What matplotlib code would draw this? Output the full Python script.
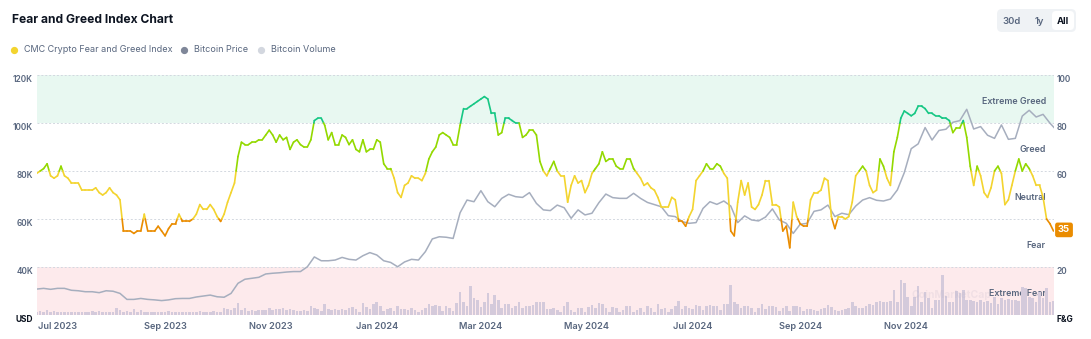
import numpy as np
import pandas as pd
import matplotlib
matplotlib.use("Agg")
import matplotlib.pyplot as plt
import matplotlib.dates as mdates
from matplotlib.collections import LineCollection
from matplotlib.patches import FancyBboxPatch
from matplotlib.lines import Line2D
from matplotlib.transforms import IdentityTransform

plt.rcParams['font.family'] = ['Inter', 'DejaVu Sans']

# data, one F&G value every 2 days from 2023-06-19
start = '2023-06-19'
fng = [
    59, 60, 61, 63, 58, 57, 58, 62, 58, 57,
    55, 55, 55, 52, 52, 52, 52, 53, 51, 50,
    51, 53, 51, 50, 48, 35, 35, 35, 34, 35,
    35, 42, 35, 35, 35, 37, 35, 33, 36, 38,
    38, 42, 39, 39, 39, 40, 42, 46, 44, 44,
    46, 44, 41, 39, 42, 47, 51, 55, 66, 72,
    71, 71, 72, 72, 73, 73, 75, 77, 75, 72,
    75, 73, 74, 69, 72, 73, 71, 70, 70, 73,
    81, 82, 82, 79, 73, 76, 71, 71, 75, 74,
    71, 73, 69, 68, 73, 68, 69, 69, 73, 72,
    63, 61, 61, 57, 51, 49, 54, 55, 58, 57,
    57, 56, 59, 65, 68, 70, 75, 76, 75, 74,
    71, 71, 79, 86, 86, 87, 88, 89, 90, 91,
    90, 84, 84, 75, 76, 82, 82, 81, 80, 80,
    74, 75, 77, 77, 75, 64, 60, 58, 61, 64,
    60, 58, 58, 47, 54, 58, 55, 56, 51, 54,
    59, 61, 63, 68, 64, 65, 65, 62, 61, 61,
    65, 65, 61, 59, 57, 54, 55, 53, 52, 49,
    45, 45, 45, 49, 48, 39, 39, 37, 41, 44,
    56, 58, 60, 63, 61, 61, 63, 62, 59, 57,
    35, 33, 47, 56, 50, 55, 45, 44, 46, 50,
    56, 56, 46, 46, 45, 35, 37, 28, 47, 41,
    38, 37, 37, 48, 51, 51, 52, 57, 56, 41,
    36, 41, 41, 40, 41, 47, 58, 60, 62, 60,
    54, 51, 52, 65, 62, 57, 54, 68, 74, 82,
    85, 84, 83, 84, 87, 87, 86, 84, 84, 83,
    83, 82, 82, 81, 76, 78, 78, 81, 74, 62,
    54, 62, 58, 51, 49, 53, 60, 62, 59, 46,
    48, 54, 60, 65, 60, 63, 61, 58, 54, 54,
    49, 40, 38, 35,
]

# bitcoin price in thousands USD, every 4 days
btc_price_k = [
    30.8, 31.1, 30.7, 31.1, 31.1, 30.3, 30.1, 29.7, 29.7, 29.3,
    30.1, 29.9, 29.0, 26.5, 26.5, 26.9, 26.5, 26.3, 26.0, 26.3,
    26.8, 26.9, 26.9, 27.5, 27.9, 28.3, 27.6, 27.4, 29.0, 33.2,
    34.9, 35.3, 35.7, 37.1, 37.4, 37.6, 37.9, 38.1, 38.1, 40.1,
    44.2, 42.6, 42.6, 42.9, 44.0, 43.2, 42.9, 44.7, 46.0, 45.0,
    42.6, 41.9, 40.1, 42.1, 43.2, 42.9, 46.4, 51.7, 52.6, 52.4,
    51.9, 62.6, 67.9, 67.2, 71.8, 67.2, 65.1, 68.6, 70.3, 69.3,
    69.0, 71.0, 66.5, 63.8, 63.5, 65.8, 64.7, 60.3, 63.8, 61.7,
    62.4, 66.8, 70.4, 68.9, 68.6, 68.6, 70.7, 68.6, 66.9, 66.0,
    65.1, 61.4, 61.0, 58.9, 58.2, 58.5, 64.4, 67.2, 66.1, 67.5,
    65.4, 58.5, 61.3, 59.6, 59.2, 60.8, 64.2, 59.6, 58.2, 54.0,
    57.8, 58.2, 63.2, 63.8, 65.8, 61.0, 62.4, 61.8, 65.4, 67.9,
    68.9, 67.8, 67.5, 68.3, 72.1, 79.3, 89.3, 91.3, 98.1, 92.9,
    96.9, 97.4, 100.3, 101.0, 105.7, 97.5, 98.5, 94.9, 93.6, 99.2,
    93.2, 93.6, 102.9, 105.3, 102.5, 103.6, 99.9, 96.8,
]

# bitcoin volume (relative units), every 2 days
btc_volume = [
    10, 12, 8, 14, 10, 12, 9, 8, 10, 9,
    8, 9, 10, 9, 8, 10, 11, 9, 12, 10,
    9, 8, 10, 22, 14, 10, 12, 10, 18, 9,
    16, 10, 8, 9, 8, 10, 9, 10, 12, 10,
    9, 8, 10, 9, 8, 10, 9, 11, 10, 9,
    10, 12, 10, 9, 20, 18, 14, 22, 36, 16,
    20, 12, 14, 12, 16, 15, 14, 20, 16, 18,
    18, 20, 15, 18, 16, 12, 13, 14, 13, 28,
    22, 18, 13, 33, 18, 14, 18, 16, 18, 14,
    20, 23, 18, 10, 36, 23, 18, 33, 40, 28,
    13, 18, 20, 13, 26, 18, 18, 15, 20, 16,
    10, 16, 20, 33, 28, 30, 26, 13, 26, 20,
    13, 35, 70, 40, 28, 86, 50, 45, 25, 40,
    66, 33, 60, 45, 20, 33, 33, 20, 28, 38,
    22, 26, 28, 30, 40, 38, 38, 18, 18, 22,
    16, 10, 28, 40, 16, 8, 20, 20, 8, 23,
    30, 20, 36, 33, 20, 10, 23, 20, 10, 16,
    26, 28, 8, 16, 20, 10, 28, 20, 10, 33,
    18, 20, 10, 18, 28, 43, 18, 28, 20, 18,
    30, 28, 16, 28, 30, 26, 28, 16, 32, 33,
    90, 40, 33, 20, 28, 26, 20, 10, 20, 33,
    18, 26, 28, 23, 13, 20, 26, 13, 26, 28,
    23, 12, 18, 18, 16, 13, 18, 20, 30, 25,
    15, 12, 16, 18, 20, 38, 28, 20, 22, 28,
    33, 30, 40, 42, 38, 38, 42, 75, 40, 105,
    95, 55, 28, 55, 88, 40, 68, 50, 22, 45,
    45, 120, 58, 40, 40, 72, 65, 75, 45, 45,
    42, 38, 45, 40, 42, 35, 55, 33, 52, 45,
    48, 45, 45, 43, 85, 80, 55, 50, 40, 70,
    50, 80, 40, 42,
]

zone_names = ['Extreme Fear', 'Fear', 'Neutral', 'Greed', 'Extreme Greed']
zone_colors = ['#ea3943', '#ea8c00', '#f3d42f', '#93d900', '#16c784']
zone_edges = [20, 40, 60, 80]
left_ticks = [20, 40, 60, 80, 100, 120]
left_labels = ['USD', '40K', '60K', '80K', '100K', '120K']
right_ticks = [0, 20, 60, 80, 100]
right_labels = ['F&G', '20', '60', '80', '100']
x_tick_months = ['2023-07-01', '2023-09-01', '2023-11-01', '2024-01-01', '2024-03-01',
                 '2024-05-01', '2024-07-01', '2024-09-01', '2024-11-01']

fng_dates = pd.date_range(start, periods=len(fng), freq='2D')
price_dates = pd.date_range(start, periods=len(btc_price_k), freq='4D')
vol_dates = pd.date_range(start, periods=len(btc_volume), freq='2D')

GRAY = '#58667e'
DARK = '#0d1421'

W, H = 1091, 339
fig = plt.figure(figsize=(W / 100, H / 100), dpi=100)
rect = [36.7 / W, 24 / H, 1016.8 / W, 240 / H]

ax_bg = fig.add_axes(rect)
ax_vol = fig.add_axes(rect, sharex=ax_bg)
ax_px = fig.add_axes(rect, sharex=ax_bg)
ax_fg = fig.add_axes(rect, sharex=ax_bg)

# background bands + grid
ax_bg.set_ylim(0, 100)
ax_bg.axhspan(80, 100, color='#e8f8f1', lw=0, zorder=0)
ax_bg.axhspan(0, 20, color='#fdeaec', lw=0, zorder=0)
for v in [20, 40, 60, 80, 100]:
    ax_bg.axhline(v, color='#d3d8e0', lw=0.7, ls=(0, (2, 2)), zorder=1)
ax_bg.set_yticks([])
ax_bg.set_xlim(fng_dates[0], fng_dates[-1])
ax_bg.set_xticks(pd.to_datetime(x_tick_months))
ax_bg.xaxis.set_major_formatter(mdates.DateFormatter('%b %Y'))
ax_bg.tick_params(axis='x', length=0, pad=5.2, labelsize=6.6, labelcolor=GRAY)
for lab in ax_bg.get_xticklabels():
    lab.set_fontweight('semibold')

for i, name in enumerate(zone_names):
    ax_bg.text(0.9926, i * 20 + 8.8, name, transform=ax_bg.get_yaxis_transform(),
               ha='right', va='center', fontsize=6.4, color=GRAY, fontweight='semibold',
               zorder=5)

# volume bars
ax_vol.bar(vol_dates, btc_volume, width=1.5, color='#d4cadb', lw=0, zorder=2)
ax_vol.set_ylim(0, 720)
ax_vol.text(0.86, 0.085, 'CoinMarketCap', transform=ax_vol.transAxes, fontsize=7.5,
            fontweight='bold', color='#b9b0c4', alpha=0.18, va='center', zorder=3)

# price line
ax_px.plot(price_dates, btc_price_k, color='#a6aebe', lw=1.1, solid_joinstyle='round')
ax_px.set_ylim(20, 120)
for v, lab in zip(left_ticks, left_labels):
    bold = lab == 'USD'
    ax_px.annotate(lab, xy=(0, v), xycoords=('axes fraction', 'data'), xytext=(-2.7, -3.6),
                   textcoords='offset points', ha='right', va='center', fontsize=6.0,
                   color=DARK if bold else GRAY, fontweight='bold' if bold else 'semibold')

# fear & greed line, coloured by zone
def band_segments(x, y, edges):
    segs, mids = [], []
    for i in range(len(x) - 1):
        x0, y0, x1, y1 = x[i], y[i], x[i + 1], y[i + 1]
        cuts = sorted([e for e in edges if (y0 - e) * (y1 - e) < 0], reverse=y1 < y0)
        pts = [(x0, y0)]
        for e in cuts:
            t = (e - y0) / (y1 - y0)
            pts.append((x0 + t * (x1 - x0), e))
        pts.append((x1, y1))
        for a, b in zip(pts[:-1], pts[1:]):
            segs.append([a, b])
            mids.append((a[1] + b[1]) / 2)
    return segs, mids

xnum = mdates.date2num(fng_dates)
segs, mids = band_segments(xnum, fng, zone_edges)
cols = [zone_colors[int(np.digitize(m, zone_edges))] for m in mids]
lc = LineCollection(segs, colors=cols, linewidths=1.2, capstyle='round', joinstyle='round')
ax_fg.add_collection(lc)
ax_fg.set_ylim(0, 100)
for v, lab in zip(right_ticks, right_labels):
    bold = lab == 'F&G'
    ax_fg.annotate(lab, xy=(1, v), xycoords=('axes fraction', 'data'), xytext=(2.4, -3.6),
                   textcoords='offset points', ha='left', va='center', fontsize=6.0,
                   color=DARK if bold else GRAY, fontweight='bold' if bold else 'semibold')
ax_fg.annotate(str(fng[-1]), xy=(1, fng[-1]), xycoords=('axes fraction', 'data'),
               xytext=(3.2, 0.8), textcoords='offset points', ha='left', va='center',
               fontsize=6.8, fontweight='bold', color='white',
               bbox=dict(boxstyle='round,pad=0.3,rounding_size=0.25', fc='#ea8c00', ec='none'))

for a in (ax_bg, ax_vol, ax_px, ax_fg):
    for s in a.spines.values():
        s.set_visible(False)
for a in (ax_vol, ax_px, ax_fg):
    a.patch.set_visible(False)
    a.set_yticks([])
    a.tick_params(axis='x', bottom=False, labelbottom=False)

# title + legend
fig.text(12 / W, 1 - 20 / H, 'Fear and Greed Index Chart', fontsize=8.7, fontweight='bold',
         color=DARK, va='center')
legend_items = [('CMC Crypto Fear and Greed Index', '#f3d42f', 14),
                ('Bitcoin Price', '#7f8799', 184),
                ('Bitcoin Volume', '#d3d7df', 261)]
for label, c, xp in legend_items:
    fig.add_artist(Line2D([xp / W], [1 - 50 / H], marker='o', ms=4.2, color=c, mec=c, lw=0,
                          transform=fig.transFigure))
    fig.text((xp + 10) / W, 1 - 50 / H, label, fontsize=6.5, color=GRAY, va='center')

# range buttons
fig.add_artist(FancyBboxPatch((997, H - 32), 79, 23, boxstyle='round,pad=0,rounding_size=5',
                              fc='#eff2f5', ec='none', transform=IdentityTransform()))
fig.add_artist(FancyBboxPatch((1052, H - 30), 22, 19, boxstyle='round,pad=0,rounding_size=4',
                              fc='white', ec='none', transform=IdentityTransform()))
for label, xp, c in [('30d', 1012, GRAY), ('1y', 1039, GRAY), ('All', 1063, DARK)]:
    fig.text(xp / W, 1 - 21 / H, label, fontsize=6.8, ha='center', va='center',
             color=c, fontweight='bold' if label == 'All' else 'semibold')

fig.savefig('out.png', dpi=100, facecolor='white')
